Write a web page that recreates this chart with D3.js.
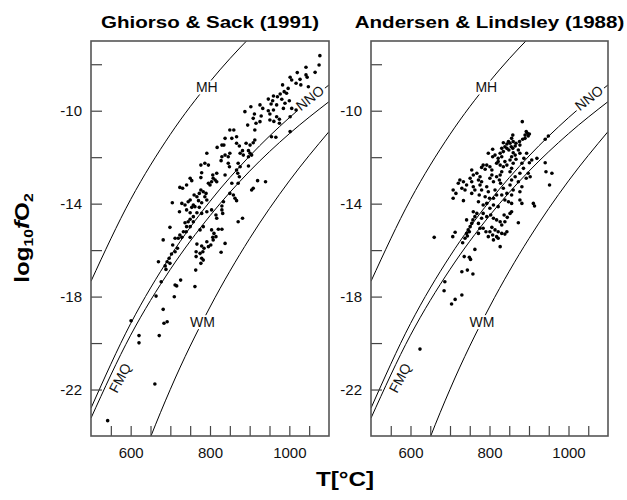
<!DOCTYPE html>
<html>
<head>
<meta charset="utf-8">
<script src="https://cdn.jsdelivr.net/npm/d3@7"></script>
<style>
  body { margin: 0; background: #fff; }
  text { font-family: "Liberation Sans", Arial, Helvetica, sans-serif; }
</style>
</head>
<body>
<script>
// buffer curves, log10 fO2 read at each temperature (°C)
const bufferT = [500, 600, 700, 800, 900, 1000, 1100];
const mhLog  = [-17.34, -13.82, -11.02, -8.75, -6.86, -5.27, -3.91];
const nnoLog = [-22.80, -19.16, -16.26, -13.90, -11.95, -10.30, -8.89];
const fmqLog = [-23.23, -19.66, -16.83, -14.52, -12.60, -10.99, -9.61];
const wmLog  = [-31.85, -26.36, -21.99, -18.45, -15.50, -13.02, -10.90];

const xTicks = [550, 600, 650, 700, 750, 800, 850, 900, 950, 1000, 1050];
const xTickLabels = [600, 800, 1000];
const yTicks = [-22, -20, -18, -16, -14, -12, -10, -8];
const yTickLabels = [-22, -18, -14, -10];

// [T °C, log10 fO2]
const ghiorsoSack = [
  [1077,-7.63],[1075,-8.03],[1065,-8.35],[1042,-8.13],[1020,-8.36],[1042,-8.46],[1045,-8.56],[1002,-8.56],[1006,-8.68],[1027,-8.65],
  [1017,-8.82],[1029,-8.89],[983,-8.89],[1048,-8.97],[997,-9.04],[987,-9.18],[993,-9.25],[977,-9.28],[970,-9.40],[960,-9.37],
  [947,-9.50],[958,-9.57],[981,-9.51],[954,-9.71],[968,-9.75],[989,-9.68],[1000,-9.57],[926,-9.75],[933,-9.90],[903,-9.83],
  [947,-10.00],[960,-9.97],[985,-9.90],[1006,-9.90],[1017,-9.97],[888,-10.04],[912,-10.14],[929,-10.23],[951,-10.14],[968,-10.26],
  [951,-10.40],[961,-10.46],[975,-10.37],[1002,-10.26],[909,-10.33],[895,-10.62],[916,-10.54],[926,-10.47],[913,-10.83],[975,-10.54],
  [1002,-10.90],[850,-10.83],[860,-10.83],[838,-11.19],[855,-11.19],[867,-11.12],[955,-11.12],[966,-11.14],
  [830,-11.48],[835,-11.48],[818,-11.58],[867,-11.40],[874,-11.52],[891,-11.40],[901,-11.48],[909,-11.38],[913,-11.26],[882,-11.72],
  [876,-11.83],[884,-11.91],[897,-11.72],[905,-11.91],[897,-11.98],[901,-11.83],[850,-11.83],[838,-11.91],[846,-11.98],[830,-11.98],
  [792,-11.83],[828,-12.15],[846,-12.26],[849,-12.41],[871,-12.26],[876,-12.41],[777,-12.34],[787,-12.26],[796,-12.34],[897,-12.38],
  [817,-12.69],[807,-12.77],[779,-12.67],[838,-12.77],[867,-12.55],[870,-12.69],[874,-12.84],[750,-12.91],[754,-13.01],[777,-12.88],
  [808,-12.91],[813,-12.98],[804,-13.06],[817,-13.06],[796,-13.12],[800,-13.20],[855,-13.12],[871,-13.12],[920,-13.01],[940,-13.06],
  [724,-13.30],[731,-13.34],[741,-13.20],[777,-13.41],[783,-13.49],[773,-13.56],[790,-13.56],[760,-13.63],[767,-13.70],[850,-13.56],
  [905,-13.41],[909,-13.34],[750,-13.84],[745,-13.92],[771,-13.87],[779,-13.96],[787,-13.70],[792,-13.84],[859,-13.63],[863,-13.77],
  [867,-13.87],[758,-14.06],[762,-14.13],[754,-14.16],[773,-14.16],[729,-13.99],[737,-14.06],[705,-13.96],[834,-13.92],[830,-14.10],
  [830,-14.27],[832,-14.42],[723,-14.35],[741,-14.27],[750,-14.39],[767,-14.39],[779,-14.42],[804,-14.27],[815,-14.49],[792,-14.35],
  [758,-14.56],[750,-14.67],[745,-14.78],[817,-14.63],[737,-14.82],[882,-14.63],[871,-14.78],[699,-15.02],[783,-14.99],[775,-15.13],
  [741,-14.99],[740,-15.21],[729,-15.45],[720,-15.49],[750,-15.45],[804,-15.13],[810,-15.28],[821,-15.10],[830,-15.10],[815,-15.42],
  [807,-15.45],
  [706,-15.78],[718,-15.92],[712,-16.07],[703,-16.17],[697,-16.35],[692,-16.50],[699,-16.57],[687,-16.68],[689,-16.83],[670,-16.50],
  [677,-17.36],[664,-17.98],[712,-17.50],[716,-17.54],[726,-17.29],[710,-18.01],[682,-18.55],[684,-19.15],[692,-19.08],[672,-19.68],
  [601,-19.04],[621,-19.68],[621,-19.99],[661,-21.76],[542,-23.34],
  [767,-15.74],[779,-15.82],[765,-16.07],[775,-16.14],[782,-16.07],[792,-15.64],[796,-15.85],[785,-15.92],[808,-15.56],[802,-15.78],
  [838,-15.71],[828,-16.09],[779,-16.35],[783,-16.43],[777,-16.57],[764,-16.86],[762,-17.57],[765,-16.28],
  [682,-15.56],[712,-15.49],[724,-15.35],[733,-15.21],[750,-14.99],[758,-14.78]
];

const andersenLindsley = [
  [883,-10.47],[893,-10.90],[896,-10.97],[901,-11.00],[890,-11.05],[898,-11.09],[884,-11.23],[890,-11.19],[859,-11.05],[856,-11.19],
  [860,-11.33],[848,-11.33],[844,-11.43],[852,-11.40],[855,-11.55],[844,-11.62],[849,-11.69],[859,-11.62],[865,-11.52],[867,-11.40],
  [835,-11.38],[839,-11.55],[831,-11.62],[835,-11.76],[876,-11.33],[877,-11.48],[873,-11.69],[877,-11.83],[860,-11.81],[865,-11.91],
  [856,-11.98],[827,-11.83],[831,-11.98],[822,-12.05],[808,-11.66],[814,-11.91],[808,-11.98],[797,-11.83],[852,-12.12],[860,-12.26],
  [867,-12.09],[839,-12.19],[844,-12.34],[835,-12.41],[818,-12.26],[822,-12.19],[827,-12.34],[784,-12.34],[780,-12.44],[793,-12.34],
  [789,-12.52],[801,-12.41],[806,-12.55],[831,-12.63],[827,-12.77],[856,-12.48],[852,-12.63],[882,-12.26],[894,-11.83],[887,-12.05],
  [949,-11.09],[941,-11.23],[920,-12.05],[907,-12.12],[901,-12.24],[886,-12.48],[877,-12.69],[865,-12.84],[856,-12.98],[755,-12.55],
  [768,-12.69],[759,-12.77],[776,-12.84],[772,-12.98],[780,-13.06],[751,-12.91],[755,-13.06],[806,-12.77],[801,-12.91],[810,-13.06],
  [818,-12.84],[825,-12.98],[828,-13.12],[725,-12.98],[734,-13.06],[721,-13.12],[742,-13.20],[730,-13.34],[738,-13.41],[708,-13.41],
  [715,-13.56],[708,-13.77],[734,-13.87],[759,-13.27],[763,-13.41],[755,-13.56],[776,-13.20],[780,-13.41],[774,-13.63],[793,-13.27],
  [797,-13.49],[789,-13.70],[800,-13.77],[814,-13.41],[818,-13.63],[810,-13.77],[835,-13.34],[844,-13.56],[831,-13.63],[839,-13.84],
  [852,-13.20],[860,-13.41],[856,-13.63],[873,-13.06],[882,-13.27],[898,-12.69],[893,-12.91],[941,-12.24],[958,-12.69],[943,-12.63],
  [952,-13.20],[877,-13.49],[772,-13.92],[784,-14.06],[793,-13.99],[810,-14.06],[822,-14.13],[801,-14.20],[848,-13.92],[856,-13.99],
  [877,-13.84],[882,-13.99],
  [660,-15.45],[713,-15.23],[707,-15.42],[742,-14.70],[759,-14.35],[768,-14.42],[763,-14.56],[758,-14.70],[755,-14.85],[751,-14.99],
  [746,-15.13],[742,-15.28],[749,-15.21],[744,-15.39],[738,-15.49],[732,-15.68],[772,-14.85],[776,-15.06],[784,-14.42],[793,-14.56],
  [780,-14.63],[803,-14.49],[810,-14.63],[784,-15.06],[791,-15.21],[772,-15.28],[806,-15.02],[814,-15.13],[801,-15.21],[808,-15.35],
  [797,-15.42],[818,-14.70],[827,-14.78],[831,-14.92],[822,-15.21],[831,-15.28],[818,-15.42],[839,-14.78],[845,-14.59],[837,-14.49],
  [852,-14.42],[856,-14.35],[810,-15.56],[822,-15.49],[827,-15.85],[873,-14.82],[844,-15.21],[839,-15.31],[763,-15.97],[736,-16.28],
  [749,-16.31],[752,-16.40],[730,-16.93],[744,-16.86],[758,-17.03],[687,-17.36],[685,-17.75],[730,-17.93],[713,-18.12],[704,-18.32],
  [624,-20.26],[903,-12.84],[911,-13.99],[914,-14.10]
];

const buffers = [mhLog, nnoLog, fmqLog, wmLog];

// where the buffer names sit (data coords) and how they are turned
const bufferLabels = [
  { text: "MH",  t: 792,  v: -9.0,  angle: 0,   gap: true },
  { text: "NNO", t: 1052, v: -9.45, angle: -38, gap: true },
  { text: "FMQ", t: 573,  v: -21.5, angle: -62, gap: false },
  { text: "WM",  t: 781,  v: -19.1, angle: 0,   gap: true }
];

const panels = [
  { title: "Ghiorso & Sack (1991)", points: ghiorsoSack, left: 91, right: 329 },
  { title: "Andersen & Lindsley (1988)", points: andersenLindsley, left: 371, right: 608 }
];

const width = 627, height = 500;
const plotTop = 41, plotBottom = 436;
const font = '"Liberation Sans", Arial, Helvetica, sans-serif';
const wide = 1.21;   // the bold headings are drawn a little wide

const svg = d3.select("body").append("svg")
  .attr("width", width)
  .attr("height", height);

const y = d3.scaleLinear().domain([-24, -7]).range([plotBottom, plotTop]);

panels.forEach((p, i) => {
  const x = d3.scaleLinear().domain([500, 1100]).range([p.left, p.right]);
  const g = svg.append("g");

  const clipId = "clip" + i;
  svg.append("clipPath").attr("id", clipId)
    .append("rect")
    .attr("x", p.left).attr("y", plotTop)
    .attr("width", p.right - p.left).attr("height", plotBottom - plotTop);

  // buffer curves
  const line = d3.line()
    .x(d => x(d[0]))
    .y(d => y(d[1]))
    .curve(d3.curveMonotoneX);

  buffers.forEach(vals => {
    g.append("path")
      .datum(bufferT.map((t, j) => [t, vals[j]]))
      .attr("clip-path", `url(#${clipId})`)
      .attr("d", line)
      .attr("fill", "none")
      .attr("stroke", "#000")
      .attr("stroke-width", 1);
  });

  // buffer names
  bufferLabels.forEach(l => {
    const lg = g.append("g")
      .attr("transform", `translate(${x(l.t)},${y(l.v)}) rotate(${l.angle})`);
    const bg = lg.append("rect").attr("fill", "#fff");
    const t = lg.append("text")
      .attr("text-anchor", "middle")
      .attr("dominant-baseline", "central")
      .attr("font-size", 14)
      .attr("fill", "#111")
      .text(l.text);
    if (l.gap) {
      const b = t.node().getBBox();
      bg.attr("x", b.x - 2).attr("y", b.y + 1)
        .attr("width", b.width + 4).attr("height", b.height - 2);
    } else {
      bg.remove();
    }
  });

  // data points
  g.append("g")
    .selectAll("circle")
    .data(p.points)
    .join("circle")
    .attr("cx", d => x(d[0]))
    .attr("cy", d => y(d[1]))
    .attr("r", 1.8)
    .attr("fill", "#000");

  // axes, ticks point inward
  const xAxis = d3.axisBottom(x)
    .tickValues(xTicks)
    .tickSizeInner(-10)
    .tickSizeOuter(0)
    .tickPadding(11)
    .tickFormat(d => xTickLabels.includes(d) ? String(d) : "");

  const yAxis = d3.axisLeft(y)
    .tickValues(yTicks)
    .tickSizeInner(-11)
    .tickSizeOuter(0)
    .tickPadding(9)
    .tickFormat(d => yTickLabels.includes(d) ? String(d) : "");

  [[xAxis, `translate(0,${plotBottom})`], [yAxis, `translate(${p.left},0)`]].forEach(([ax, tr]) => {
    const a = g.append("g")
      .attr("transform", tr)
      .call(ax)
      .attr("font-size", 15)
      .attr("font-family", font);
    a.select(".domain").remove();
    a.selectAll(".tick line").attr("stroke", "#444").attr("stroke-width", 1.2);
    a.selectAll(".tick text").attr("fill", "#111");
  });

  // frame
  g.append("rect")
    .attr("x", p.left).attr("y", plotTop)
    .attr("width", p.right - p.left).attr("height", plotBottom - plotTop)
    .attr("fill", "none")
    .attr("stroke", "#555")
    .attr("stroke-width", 1.6);

  // panel title
  svg.append("text")
    .attr("transform", `translate(${(p.left + p.right) / 2},28) scale(${wide},1)`)
    .attr("text-anchor", "middle")
    .attr("font-size", 17)
    .attr("font-weight", "bold")
    .text(p.title);
});

// y axis title: log10 fO2
const yt = svg.append("text")
  .attr("transform", `translate(29,238) rotate(-90) scale(${wide},1)`)
  .attr("text-anchor", "middle")
  .attr("font-size", 20)
  .attr("font-weight", "bold");
yt.append("tspan").text("log");
yt.append("tspan").attr("font-size", 13).attr("dy", 4).text("10");
yt.append("tspan").attr("font-style", "italic").attr("dy", -4).text("f");
yt.append("tspan").text("O");
yt.append("tspan").attr("font-size", 13).attr("dy", 4).text("2");

// x axis title
svg.append("text")
  .attr("transform", `translate(345,486) scale(${wide},1)`)
  .attr("text-anchor", "middle")
  .attr("font-size", 20)
  .attr("font-weight", "bold")
  .text("T[°C]");
</script>
</body>
</html>
